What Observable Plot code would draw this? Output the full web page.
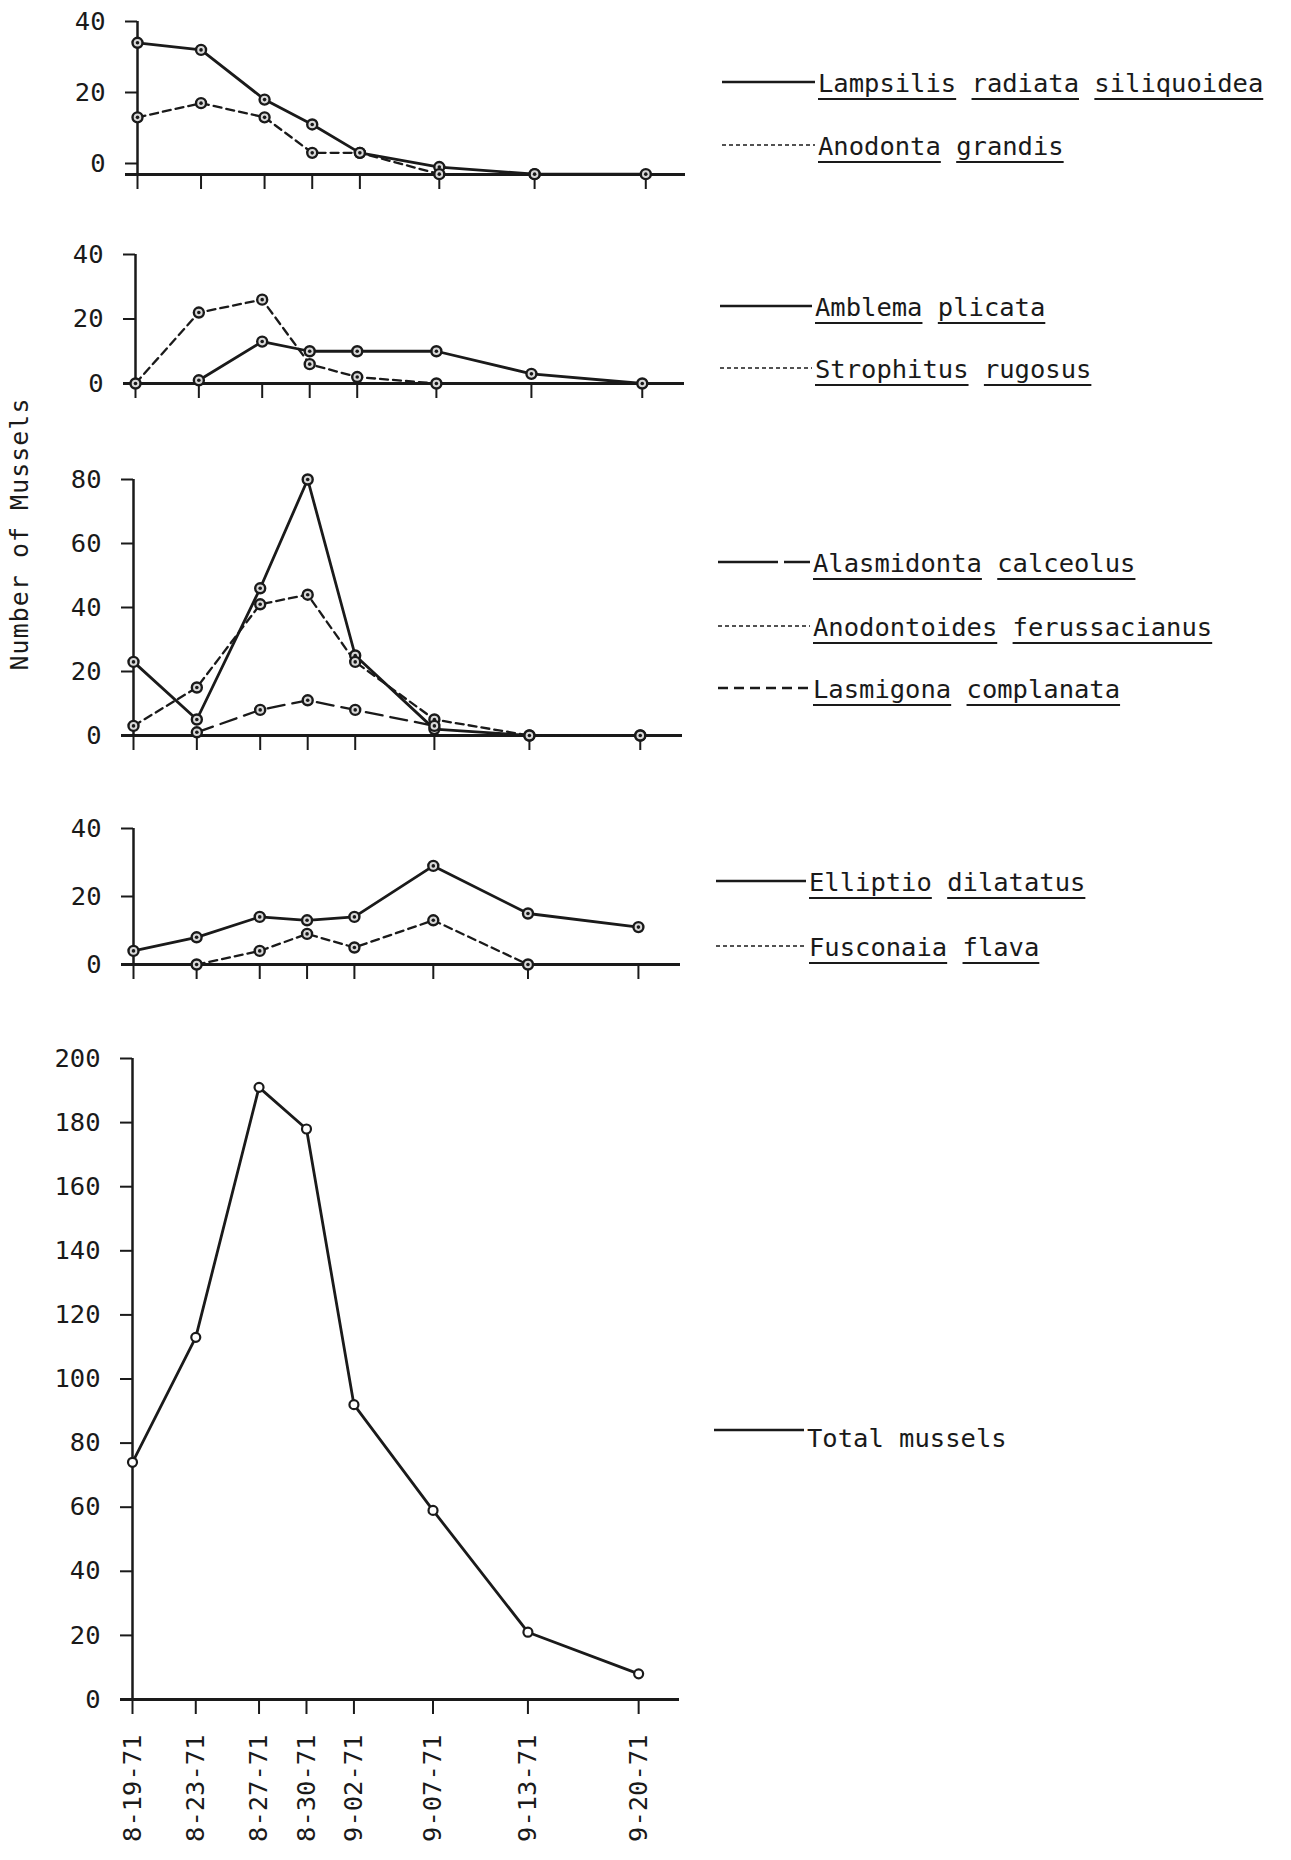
<!DOCTYPE html>
<html><head><meta charset="utf-8">
<script src="https://cdn.jsdelivr.net/npm/d3@7"></script>
<script src="https://cdn.jsdelivr.net/npm/@observablehq/plot@0.6"></script>
<style>
body{margin:0;background:#fff;}
#page{position:relative;width:1291px;height:1860px;overflow:hidden;background:#fff;font-family:"DejaVu Sans Mono",monospace;color:#1a1a1a;}
.panel{position:absolute;left:0;}
.leg{position:absolute;font-size:25.5px;line-height:30px;white-space:pre;}
.leg u{text-decoration-thickness:2px;text-underline-offset:6px;}
.ylab{position:absolute;width:320px;text-align:center;font-size:25px;letter-spacing:1px;line-height:30px;transform:rotate(-90deg);transform-origin:50% 50%;white-space:nowrap;}
</style></head><body><div id="page"></div><script>
// ---------- data ----------
const dates = ["8-19-71","8-23-71","8-27-71","8-30-71","9-02-71","9-07-71","9-13-71","9-20-71"];
const lampsilis      = [34, 32, 18, 11, 3, -1, -3, -3];
const anodontaGrandis= [13, 17, 13, 3, 3, -3, -3, null];
const amblema        = [null, 1, 13, 10, 10, 10, 3, 0];
const strophitus     = [0, 22, 26, 6, 2, 0, null, null];
const alasmidonta    = [23, 5, 46, 80, 25, 2, 0, 0];
const anodontoides   = [3, 15, 41, 44, 23, 5, 0, 0];
const lasmigona      = [null, 1, 8, 11, 8, 3, null, null];
const elliptio       = [4, 8, 14, 13, 14, 29, 15, 11];
const fusconaia      = [null, 0, 4, 9, 5, 13, 0, null];
const total          = [74, 113, 191, 178, 92, 59, 21, 8];
const ticks40 = [0, 20, 40];
const ticks80 = [0, 20, 40, 60, 80];
const ticks200 = [0, 20, 40, 60, 80, 100, 120, 140, 160, 180, 200];

// ---------- helpers ----------
const parse = d3.timeParse("%m-%d-%y");
const dateObjs = dates.map(parse);
const rows = vals => dateObjs.map((d, i) => ({date: d, v: vals[i]})).filter(r => r.v != null);
const ink = "#1a1a1a";
const page = document.getElementById("page");

const SOLID = null, SHORT = "8,5", LONG = "17,8";

const panels = [
  {series: [{v: lampsilis, dash: SOLID}, {v: anodontaGrandis, dash: SHORT}],
   yDomain: [-3.1, 40], ticks: ticks40, x0: 137, x1: 645, xEnd: 685, yTop: 21, yBase: 174},
  {series: [{v: amblema, dash: SOLID}, {v: strophitus, dash: SHORT}],
   yDomain: [0, 40], ticks: ticks40, x0: 135, x1: 642, xEnd: 684, yTop: 254, yBase: 383},
  {series: [{v: alasmidonta, dash: SOLID}, {v: anodontoides, dash: SHORT}, {v: lasmigona, dash: LONG}],
   yDomain: [0, 80], ticks: ticks80, x0: 133, x1: 640, xEnd: 682, yTop: 479, yBase: 735},
  {series: [{v: elliptio, dash: SOLID}, {v: fusconaia, dash: SHORT}],
   yDomain: [0, 40], ticks: ticks40, x0: 133, x1: 638, xEnd: 680, yTop: 828, yBase: 964},
  {series: [{v: total, dash: SOLID}], hollow: true, labels: true,
   yDomain: [0, 200], ticks: ticks200, x0: 132, x1: 638, xEnd: 679, yTop: 1058, yBase: 1699}
];

const W = 700;
for (const p of panels) {
  const mt = 20, mb = p.labels ? 160 : 30;
  const ppd = (p.x1 - p.x0) / 32;
  const dEnd = d3.timeHour.offset(dateObjs[0], Math.round((p.xEnd - p.x0) / ppd * 24));
  const marks = [
    Plot.ruleY([p.yDomain[0]], {stroke: ink, strokeWidth: 3, insetLeft: -12}),
    Plot.ruleX([dateObjs[0]], {y1: p.yDomain[0], y2: p.yDomain[1], stroke: ink, strokeWidth: 2.5}),
    Plot.axisY(p.ticks, {tickSize: 12, tickPadding: 20, label: null, stroke: ink, strokeWidth: 2, fill: ink}),
    Plot.axisX(dateObjs, {
      tickSize: 15, tickPadding: 20, label: null, stroke: ink, strokeWidth: 2, fill: ink,
      tickRotate: p.labels ? -90 : 0,
      tickFormat: p.labels ? (d => dates[dateObjs.findIndex(t => +t === +d)]) : (() => "")
    })
  ];
  for (const s of p.series) {
    const data = rows(s.v);
    marks.push(Plot.line(data, {x: "date", y: "v", stroke: ink,
      strokeWidth: s.dash ? 2.3 : 2.8, strokeDasharray: s.dash || undefined}));
  }
  for (const s of p.series) {
    const data = rows(s.v);
    if (p.hollow) {
      marks.push(Plot.dot(data, {x: "date", y: "v", r: 4.5, fill: "white", stroke: ink, strokeWidth: 2.2}));
    } else {
      marks.push(Plot.dot(data, {x: "date", y: "v", r: 5, fill: "#d8d8d8", stroke: ink, strokeWidth: 2.4}));
      marks.push(Plot.dot(data, {x: "date", y: "v", r: 1.8, fill: ink}));
    }
  }
  const svg = Plot.plot({
    width: W,
    height: (p.yBase - p.yTop) + mt + mb,
    marginLeft: p.x0, marginRight: W - p.xEnd, marginTop: mt, marginBottom: mb,
    x: {type: "time", domain: [dateObjs[0], dEnd]},
    y: {domain: p.yDomain},
    style: {fontFamily: "DejaVu Sans Mono", fontSize: "25.5px", color: ink, background: "transparent", overflow: "visible"},
    marks
  });
  svg.classList.add("panel");
  svg.style.top = (p.yTop - mt) + "px";
  page.appendChild(svg);
}

// ---------- legends ----------
function legend(xLine, yLine, textX, dash, words, underline = true, sw = 2.5, textDy = 0) {
  const len = textX - xLine - 3;
  const s = d3.select(page).append("svg")
    .style("position", "absolute").style("left", xLine + "px").style("top", (yLine - 5) + "px")
    .attr("width", len).attr("height", 10);
  s.append("line").attr("x1", 0).attr("x2", len).attr("y1", 5).attr("y2", 5)
    .attr("stroke", ink).attr("stroke-width", sw).attr("stroke-dasharray", dash);
  d3.select(page).append("div").attr("class", "leg")
    .style("left", textX + "px").style("top", (yLine + 10 - 23.6 + textDy) + "px")
    .html(words.map(w => underline ? `<u>${w}</u>` : w).join(" "));
}
legend(722, 82, 818, null, ["Lampsilis", "radiata", "siliquoidea"]);
legend(722, 145, 818, "4,3", ["Anodonta", "grandis"], true, 1.6);
legend(720, 306, 815, null, ["Amblema", "plicata"]);
legend(720, 368, 815, "4,3", ["Strophitus", "rugosus"], true, 1.6);
legend(718, 562, 813, "60,6", ["Alasmidonta", "calceolus"]);
legend(718, 626, 813, "4,3", ["Anodontoides", "ferussacianus"], true, 1.6);
legend(718, 688, 813, "10,6", ["Lasmigona", "complanata"]);
legend(716, 881, 809, null, ["Elliptio", "dilatatus"]);
legend(716, 946, 809, "4,3", ["Fusconaia", "flava"], true, 1.6);
legend(714, 1430, 807, null, ["Total", "mussels"], false, 2.5, 7);

// ---------- y-axis title ----------
d3.select(page).append("div").attr("class", "ylab")
  .style("left", (20 - 160) + "px").style("top", (534 - 15) + "px")
  .text("Number of Mussels");
</script></body></html>
